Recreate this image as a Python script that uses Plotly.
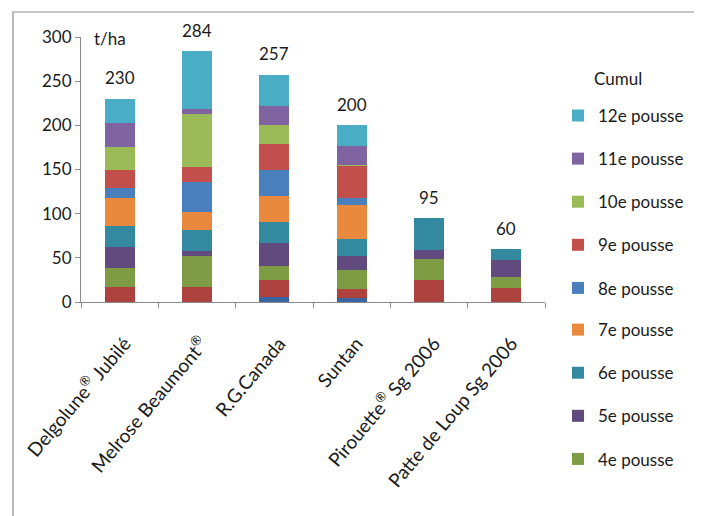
import plotly.graph_objects as go

categories = ["Delgolune<sup>®</sup> Jubilé", "Melrose Beaumont<sup>®</sup>", "R.G.Canada",
              "Suntan", "Pirouette<sup>®</sup> Sg 2006", "Patte de Loup Sg 2006"]

series_names = ["2e pousse", "3e pousse", "4e pousse", "5e pousse", "6e pousse", "7e pousse",
                "8e pousse", "9e pousse", "10e pousse", "11e pousse", "12e pousse"]

p2 = [0, 0, 6, 4, 0, 0]
p3 = [17, 17, 19, 11, 25, 16]
p4 = [22, 35, 16, 21, 24, 12]
p5 = [23, 6, 26, 16, 10, 20]
p6 = [24, 23, 24, 19, 36, 12]
p7 = [32, 21, 29, 39, 0, 0]
p8 = [11, 34, 29, 8, 0, 0]
p9 = [21, 17, 30, 36, 0, 0]
p10 = [26, 60, 21, 1, 0, 0]
p11 = [27, 6, 22, 22, 0, 0]
p12 = [27, 65, 35, 23, 0, 0]
cumul = [230, 284, 257, 200, 95, 60]

values = [p2, p3, p4, p5, p6, p7, p8, p9, p10, p11, p12]
colors = ["#3B64A0", "#AE423F", "#7E9C44", "#614A7E", "#338AA0", "#E8893D",
          "#4A7FBE", "#C24F4C", "#9BBB59", "#8064A2", "#4BACC6"]
legend_of = [None, None, "legend2", "legend2", "legend2", "legend2",
             "legend", "legend", "legend", "legend", "legend"]

FONT = "Lato, Liberation Sans, Arial"
TXT = "#1a1a1a"

fig = go.Figure()
for i, (name, vals, col) in enumerate(zip(series_names, values, colors)):
    lg = legend_of[i]
    fig.add_trace(go.Bar(
        x=categories, y=vals, name=name, marker=dict(color=col, line=dict(width=0)),
        showlegend=lg is not None, legend=lg if lg else "legend",
        legendgroup=name, legendrank=100 - i,
    ))

for c, v in zip(categories, cumul):
    fig.add_annotation(x=c, y=v, yref="y", xref="x", text=str(v), showarrow=False,
                       yshift=21, font=dict(size=17, color=TXT, family=FONT))

fig.add_annotation(x=0.024, y=1.0, xref="paper", yref="paper", text="t/ha", showarrow=False,
                   xanchor="left", yanchor="middle", yshift=-1,
                   font=dict(size=17, color=TXT, family=FONT))
fig.add_annotation(x=1.101, y=0.845, xref="paper", yref="paper", text="Cumul", showarrow=False,
                   xanchor="left", yanchor="middle",
                   font=dict(size=17, color=TXT, family=FONT))

fig.add_shape(type="rect", xref="paper", yref="paper", x0=-0.1466, x1=1.3276, y0=-0.83, y1=1.0943,
              line=dict(color="#8c8c8c", width=1.2), layer="below")

leg_common = dict(xanchor="left", yanchor="top", font=dict(size=17, color=TXT, family=FONT),
                  tracegroupgap=18, itemwidth=30, bgcolor="rgba(0,0,0,0)")

fig.update_layout(
    width=694, height=508,
    margin=dict(l=73, r=157, t=29, b=214),
    barmode="stack", bargap=0.61,
    paper_bgcolor="white", plot_bgcolor="white",
    font=dict(family=FONT, size=16, color=TXT),
    showlegend=True,
    legend=dict(x=1.028, y=0.770, **leg_common),
    legend2=dict(x=1.028, y=-0.038, **leg_common),
)
fig.update_yaxes(range=[0, 300], tickvals=[0, 50, 100, 150, 200, 250, 300],
                 showgrid=False, zeroline=False, showline=True, linecolor="#8c8c8c",
                 ticks="outside", ticklen=5, tickcolor="#8c8c8c",
                 tickfont=dict(size=17, family=FONT, color=TXT))
fig.update_xaxes(showgrid=False, showline=True, linecolor="#8c8c8c", tickangle=-50,
                 ticks="outside", tickson="boundaries", ticklen=5, tickcolor="#8c8c8c",
                 ticklabelstandoff=22, ticklabelshift=5,
                 tickfont=dict(size=19, family=FONT, color=TXT))

fig.write_html("out.html")
